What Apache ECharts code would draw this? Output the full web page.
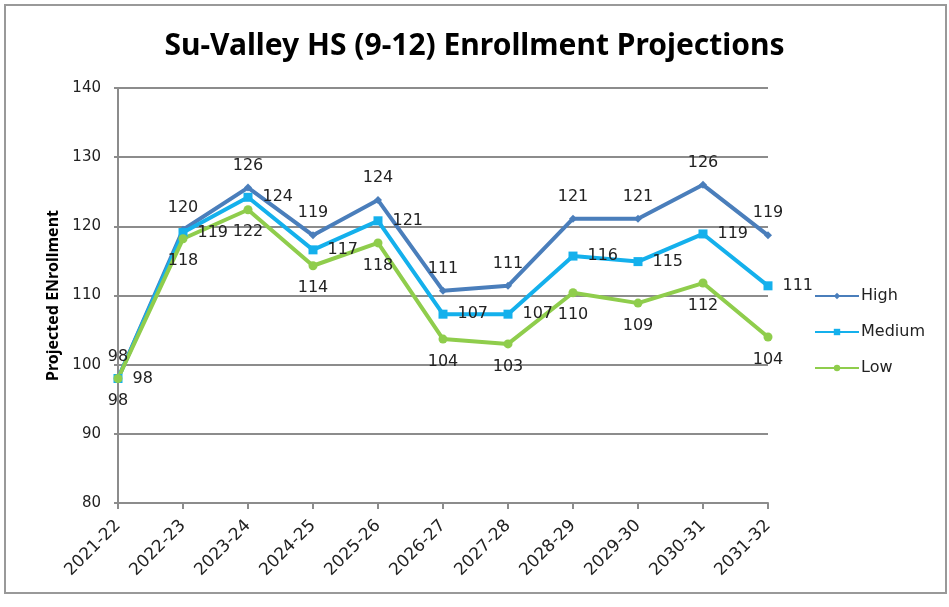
<!DOCTYPE html>
<html>
<head>
<meta charset="utf-8">
<script src="https://cdn.jsdelivr.net/npm/echarts@6/dist/echarts.min.js"></script>
<style>
  html, body { margin: 0; padding: 0; background: #fff; }
  #main { width: 949px; height: 607px; }
</style>
</head>
<body>
<div id="main"></div>
<script>
var years = ['2021-22', '2022-23', '2023-24', '2024-25', '2025-26', '2026-27',
             '2027-28', '2028-29', '2029-30', '2030-31', '2031-32'];
// values (labels show them rounded)
var high   = [98, 119.5, 125.6, 118.7, 123.8, 110.7, 111.4, 121.1, 121.1, 126.0, 118.7];
var medium = [98, 119.1, 124.2, 116.6, 120.8, 107.3, 107.3, 115.7, 114.9, 118.9, 111.4];
var low    = [98, 118.2, 122.4, 114.3, 117.6, 103.7, 103.0, 110.4, 108.9, 111.8, 104.0];
var yTicks = [80, 90, 100, 110, 120, 130, 140];

var chart = echarts.init(document.getElementById('main'));
var labelFont = 'DejaVu Sans';

function makeSeries(name, data, color, symbol, size, pos) {
  return {
    name: name,
    type: 'line',
    data: data,
    symbol: symbol,
    symbolSize: size,
    lineStyle: { color: color, width: 4 },
    itemStyle: { color: color },
    label: {
      show: true,
      position: pos,
      distance: 10,
      color: '#222',
      fontFamily: labelFont,
      fontSize: 16,
      formatter: function (p) { return Math.round(p.value); }
    },
    z: 3
  };
}

var option = {
  animation: false,
  title: {
    text: 'Su-Valley HS (9-12) Enrollment Projections',
    left: 'center',
    top: 26,
    textStyle: { fontFamily: 'Noto Sans', fontWeight: 'bold', fontSize: 30, color: '#000' }
  },
  legend: {
    orient: 'vertical',
    left: 809,
    top: 283,
    itemGap: 20,
    itemWidth: 44,
    itemHeight: 8,
    textStyle: { fontFamily: labelFont, fontSize: 16, color: '#222', padding: [0, 0, 0, -3] },
    data: ['High', 'Medium', 'Low']
  },
  grid: { left: 118, right: 181, top: 88, bottom: 104 },
  xAxis: {
    type: 'category',
    data: years,
    boundaryGap: false,
    axisLine: { lineStyle: { color: '#8c8c8c', width: 2 } },
    axisTick: { show: true, length: 6, alignWithLabel: true, lineStyle: { color: '#8c8c8c', width: 2 } },
    axisLabel: { rotate: 45, margin: 20, color: '#222', fontFamily: labelFont, fontSize: 17 }
  },
  yAxis: {
    type: 'value',
    min: yTicks[0],
    max: yTicks[yTicks.length - 1],
    interval: 10,
    name: 'Projected ENrollment',
    nameLocation: 'middle',
    nameGap: 56,
    nameTextStyle: { fontFamily: 'Noto Sans', fontWeight: 'bold', fontSize: 16, color: '#000' },
    axisLine: { show: true, lineStyle: { color: '#8c8c8c', width: 2 } },
    axisTick: { show: true, length: 4, lineStyle: { color: '#8c8c8c', width: 2 } },
    axisLabel: { margin: 17, color: '#222', fontFamily: labelFont, fontSize: 15 },
    splitLine: { lineStyle: { color: '#8c8c8c', width: 2 } }
  },
  graphic: [{
    type: 'rect',
    shape: { x: 5, y: 5, width: 941, height: 588 },
    style: { fill: 'none', stroke: '#999', lineWidth: 2 },
    silent: true
  }],
  series: [
    makeSeries('High', high, '#4a7ebb', 'diamond', 8, 'top'),
    makeSeries('Medium', medium, '#14b0ec', 'rect', 9, 'right'),
    makeSeries('Low', low, '#8fcd4c', 'circle', 9, 'bottom')
  ]
};

chart.setOption(option);
window.onresize = chart.resize;
</script>
</body>
</html>
